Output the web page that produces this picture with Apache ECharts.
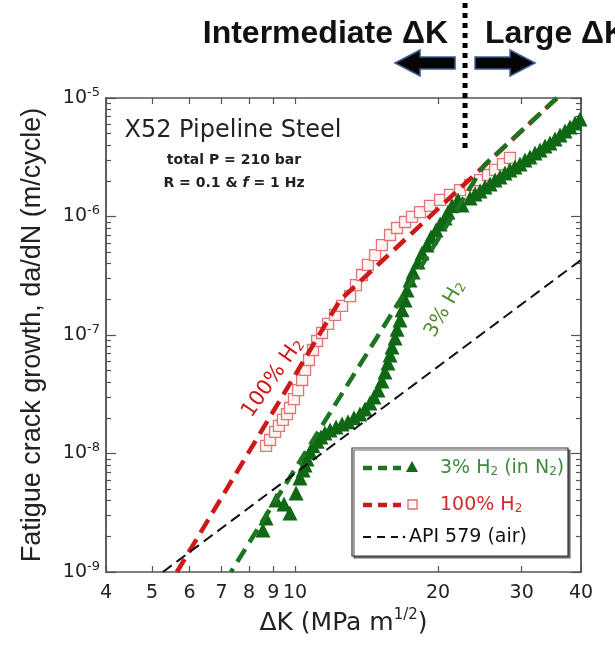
<!DOCTYPE html>
<html>
<head>
<meta charset="utf-8">
<script src="https://cdn.jsdelivr.net/npm/echarts@6/dist/echarts.min.js"></script>
<style>
  html, body { margin: 0; padding: 0; background: #fff; }
  #chart { width: 615px; height: 650px; }
</style>
</head>
<body>
<div id="chart"></div>
<script>
// 3% H2 (in N2) - filled triangles
const k3 = [8.56, 8.69, 9.12, 9.48, 9.76, 10.05, 10.24, 10.40, 10.50, 10.60, 10.76, 10.91, 11.13, 11.34, 11.56,
  11.85, 12.20, 12.56, 12.93, 13.31, 13.70, 14.04, 14.38, 14.66, 14.95, 15.24, 15.47, 15.69, 15.85, 16.00,
  16.24, 16.40, 16.63, 16.80, 17.05, 17.21, 17.46, 17.72, 18.15, 18.51, 18.96, 19.33, 19.81, 20.20, 20.69,
  20.99, 21.40, 22.04, 22.47, 23.36, 23.93, 24.52, 25.12, 25.74, 26.37, 27.01, 27.67, 28.35, 29.05, 29.76,
  30.49, 31.23, 32.01, 32.80, 33.60, 34.42, 35.26, 36.13, 37.02, 37.92, 38.86, 39.81];
const r3 = [2.26e-9, 2.86e-9, 4.05e-9, 3.75e-9, 3.15e-9, 4.64e-9, 6.21e-9, 7.26e-9, 8.00e-9, 9.0e-9, 1.03e-8, 1.16e-8, 1.27e-8, 1.38e-8, 1.49e-8,
  1.58e-8, 1.67e-8, 1.77e-8, 1.85e-8, 2.00e-8, 2.15e-8, 2.38e-8, 2.67e-8, 3.00e-8, 3.43e-8, 4.09e-8, 4.87e-8, 5.81e-8, 6.78e-8, 7.92e-8,
  9.44e-8, 1.12e-7, 1.34e-7, 1.63e-7, 1.97e-7, 2.40e-7, 2.91e-7, 3.40e-7, 4.13e-7, 4.92e-7, 5.74e-7, 6.71e-7, 7.69e-7, 8.65e-7, 9.71e-7,
  1.09e-6, 1.23e-6, 1.38e-6, 1.25e-6, 1.43e-6, 1.55e-6, 1.64e-6, 1.77e-6, 1.88e-6, 2.03e-6, 2.15e-6, 2.33e-6, 2.47e-6, 2.62e-6, 2.77e-6,
  3.00e-6, 3.18e-6, 3.44e-6, 3.64e-6, 3.94e-6, 4.17e-6, 4.51e-6, 4.88e-6, 5.27e-6, 5.69e-6, 6.15e-6, 6.65e-6];

// 100% H2 - open squares
const k100 = [8.69, 8.86, 9.08, 9.25, 9.43, 9.62, 9.76, 9.95, 10.15, 10.35, 10.50, 10.70, 10.91, 11.13,
  11.40, 11.74, 12.14, 12.56, 13.06, 13.44, 13.84, 14.24, 14.74, 15.24, 15.85, 16.40, 17.05, 17.63,
  18.33, 19.24, 20.20, 21.20, 22.26, 23.36, 24.52, 25.49, 26.37, 27.40, 28.35];
const r100 = [1.16e-8, 1.30e-8, 1.52e-8, 1.71e-8, 1.92e-8, 2.15e-8, 2.42e-8, 2.88e-8, 3.43e-8, 4.17e-8, 5.07e-8, 6.15e-8, 7.47e-8, 8.90e-8,
  1.04e-7, 1.24e-7, 1.48e-7, 1.76e-7, 2.13e-7, 2.64e-7, 3.21e-7, 3.90e-7, 4.73e-7, 5.74e-7, 6.98e-7, 8.00e-7, 8.99e-7, 9.91e-7,
  1.09e-6, 1.23e-6, 1.38e-6, 1.52e-6, 1.67e-6, 1.85e-6, 2.03e-6, 2.24e-6, 2.47e-6, 2.77e-6, 3.12e-6];

// dashed fits
const fit3K = [7.33, 25.0, 35.6];
const fit3R = [1e-9, 2.7e-6, 1e-5];
const fit100K = [5.64, 12.44, 35.6];
const fit100R = [1e-9, 1.97e-7, 1e-5];
const apiK = [5.27, 40];
const apiR = [1e-9, 4.3e-7];

// axes
const xTicks = [4, 5, 6, 7, 8, 9, 10, 20, 30, 40];
const yMajorTicks = [1e-9, 1e-8, 1e-7, 1e-6, 1e-5];
const yMinorTicks = [];
for (let e = -9; e < -5; e++) {
  for (let m = 2; m <= 9; m++) yMinorTicks.push(m * Math.pow(10, e));
}
const splitK = 22.8; // intermediate / large dK boundary

const pairs = (xs, ys) => xs.map((x, i) => [x, ys[i]]);

const sans = 'DejaVu Sans';
const axisColor = '#555';
const green = '#0f6814';
const red = '#cc1a1a';

const chart = echarts.init(document.getElementById('chart'));

function xAxisDef(position, withLabels) {
  return {
    type: 'log', logBase: 10, min: 4, max: 40, position: position,
    axisLine: { show: true, lineStyle: { color: axisColor, width: 1.5 } },
    axisTick: { show: true, inside: true, length: 6, customValues: xTicks, lineStyle: { color: axisColor, width: 1.2 } },
    axisLabel: withLabels ? {
      show: true, customValues: xTicks, margin: 12, color: '#222', fontFamily: sans, fontSize: 19
    } : { show: false },
    splitLine: { show: false }, minorTick: { show: false }
  };
}

function yAxisDef(position, ticks, len, withLabels) {
  return {
    type: 'log', logBase: 10, min: 1e-9, max: 1e-5, position: position,
    axisLine: { show: true, lineStyle: { color: axisColor, width: 1.5 } },
    axisTick: { show: true, inside: true, length: len, customValues: ticks, lineStyle: { color: axisColor, width: 1.2 } },
    axisLabel: withLabels ? {
      show: true, customValues: yMajorTicks, margin: 6, color: '#222',
      formatter: v => '{b|10}{s|' + Math.round(Math.log10(v)) + '}',
      rich: {
        b: { fontFamily: sans, fontSize: 19, lineHeight: 24, color: '#222' },
        s: { fontFamily: sans, fontSize: 13, lineHeight: 13, verticalAlign: 'top', color: '#222' }
      }
    } : { show: false },
    splitLine: { show: false }, minorTick: { show: false }
  };
}

const xMain = xAxisDef('bottom', true);
xMain.name = 'ΔK (MPa m{s|1/2})';
xMain.nameLocation = 'middle';
xMain.nameGap = 36;
xMain.nameTextStyle = {
  fontFamily: sans, fontSize: 25, lineHeight: 30, color: '#222', verticalAlign: 'top',
  rich: { s: { fontFamily: sans, fontSize: 15, lineHeight: 15, verticalAlign: 'top', color: '#222' } }
};

const yMain = yAxisDef('left', yMajorTicks, 10, true);
yMain.name = 'Fatigue crack growth, da/dN (m/cycle)';
yMain.nameLocation = 'middle';
yMain.nameGap = 60;
yMain.nameTextStyle = { fontFamily: 'Liberation Sans', fontSize: 27, color: '#222' };

const option = {
  backgroundColor: '#fff',
  animation: false,
  grid: { left: 106, right: 34, top: 98, bottom: 78, outerBoundsMode: 'none' },
  xAxis: [xMain, xAxisDef('top', false)],
  yAxis: [
    yMain,
    yAxisDef('left', yMinorTicks, 5, false),
    yAxisDef('right', yMajorTicks, 10, false),
    yAxisDef('right', yMinorTicks, 5, false)
  ],
  series: [
    {
      name: '100% H2 data', type: 'scatter', data: pairs(k100, r100),
      symbol: 'rect', symbolSize: 11,
      itemStyle: { color: '#fff4f4', borderColor: '#e27474', borderWidth: 1.3, opacity: 1 }
    },
    {
      name: '3% H2 data', type: 'scatter', data: pairs(k3, r3),
      symbol: 'triangle', symbolSize: 15,
      itemStyle: { color: green, opacity: 1 }
    },
    {
      name: '100% H2 fit', type: 'line', data: pairs(fit100K, fit100R), symbol: 'none',
      lineStyle: { color: red, width: 4.5, type: [15, 8] }, z: 4
    },
    {
      name: '3% H2 fit', type: 'line', data: pairs(fit3K, fit3R), symbol: 'none',
      lineStyle: { color: '#1d7421', width: 4.5, type: [15, 8], dashOffset: 11 }, z: 5
    },
    {
      name: 'API 579 (air)', type: 'line', data: pairs(apiK, apiR), symbol: 'none',
      lineStyle: { color: '#111', width: 2, type: [11, 6] }, z: 6
    }
  ]
};

chart.setOption(option);

const sx = chart.convertToPixel({ xAxisIndex: 0 }, splitK);
const subRich = (color, size) => ({
  s: { fontFamily: sans, fontSize: Math.round(size * 0.65), lineHeight: 12, verticalAlign: 'bottom', fill: color }
});

chart.setOption({
  graphic: [
    // headers above the plot
    { type: 'text', x: sx - 17, y: 34, z: 10, style: {
      text: 'Intermediate ΔK', fontFamily: 'Liberation Sans', fontWeight: 'bold', fontSize: 32,
      fill: '#111', align: 'right', verticalAlign: 'middle' } },
    { type: 'text', x: sx + 20, y: 34, z: 10, style: {
      text: 'Large ΔK', fontFamily: 'Liberation Sans', fontWeight: 'bold', fontSize: 32,
      fill: '#111', align: 'left', verticalAlign: 'middle' } },
    { type: 'line', z: 10, shape: { x1: sx, y1: 3, x2: sx, y2: 152 },
      style: { stroke: '#000', lineWidth: 5, lineDash: [5, 5] } },
    { type: 'polygon', z: 10, shape: { points: [[sx - 70, 63], [sx - 45, 50], [sx - 45, 57], [sx - 10, 57], [sx - 10, 69], [sx - 45, 69], [sx - 45, 76]] },
      style: { fill: '#050505', stroke: '#3d5d92', lineWidth: 1.5 } },
    { type: 'polygon', z: 10, shape: { points: [[sx + 70, 63], [sx + 45, 50], [sx + 45, 57], [sx + 10, 57], [sx + 10, 69], [sx + 45, 69], [sx + 45, 76]] },
      style: { fill: '#050505', stroke: '#3d5d92', lineWidth: 1.5 } },

    // material / test condition block
    { type: 'text', x: 233, y: 131, z: 10, style: {
      text: 'X52 Pipeline Steel', fontFamily: sans, fontSize: 24, fill: '#222', align: 'center', verticalAlign: 'middle' } },
    { type: 'text', x: 234, y: 160, z: 10, style: {
      text: 'total P = 210 bar', fontFamily: sans, fontWeight: 'bold', fontSize: 14, fill: '#222', align: 'center', verticalAlign: 'middle' } },
    { type: 'text', x: 234, y: 183, z: 10, style: {
      text: '{b|R = 0.1 & }{i|f}{b| = 1 Hz}', align: 'center', verticalAlign: 'middle',
      rich: {
        b: { fontFamily: sans, fontWeight: 'bold', fontSize: 14, fill: '#222' },
        i: { fontFamily: sans, fontWeight: 'bold', fontStyle: 'italic', fontSize: 14, fill: '#222' }
      } } },

    // curve labels
    { type: 'text', x: 273, y: 378, rotation: 55 * Math.PI / 180, z: 10, style: {
      text: '100% H{s|2}', fontFamily: sans, fontSize: 21, fill: red, align: 'center', verticalAlign: 'middle',
      rich: subRich(red, 21) } },
    { type: 'text', x: 445, y: 309, rotation: 60 * Math.PI / 180, z: 10, style: {
      text: '3% H{s|2}', fontFamily: sans, fontSize: 20, fill: '#4f8a2c', align: 'center', verticalAlign: 'middle',
      rich: subRich('#4f8a2c', 20) } },

    // legend
    { type: 'rect', z: 10, shape: { x: 352, y: 448, width: 216, height: 108 },
      style: { fill: '#fff', stroke: '#333', lineWidth: 1.2, shadowColor: '#666', shadowOffsetX: 2, shadowOffsetY: 2 } },
    { type: 'line', z: 11, shape: { x1: 363, y1: 468, x2: 401, y2: 468 },
      style: { stroke: '#1d7421', lineWidth: 4.5, lineDash: [9, 6] } },
    { type: 'polygon', z: 11, shape: { points: [[412, 461], [418, 472], [406, 472]] }, style: { fill: green } },
    { type: 'text', x: 440, y: 468, z: 11, style: {
      text: '3% H{s|2} (in N{s|2})', fontFamily: sans, fontSize: 19, fill: '#3d8a3d', verticalAlign: 'middle',
      rich: subRich('#3d8a3d', 19) } },
    { type: 'line', z: 11, shape: { x1: 363, y1: 505, x2: 401, y2: 505 },
      style: { stroke: red, lineWidth: 4.5, lineDash: [9, 6] } },
    { type: 'rect', z: 11, shape: { x: 408, y: 500, width: 9, height: 9 },
      style: { fill: '#fff', stroke: '#e06a6a', lineWidth: 1.3 } },
    { type: 'text', x: 440, y: 505, z: 11, style: {
      text: '100% H{s|2}', fontFamily: sans, fontSize: 19, fill: '#d42a2a', verticalAlign: 'middle',
      rich: subRich('#d42a2a', 19) } },
    { type: 'line', z: 11, shape: { x1: 363, y1: 537, x2: 398, y2: 537 },
      style: { stroke: '#111', lineWidth: 2, lineDash: [8, 6] } },
    { type: 'circle', z: 11, shape: { cx: 404, cy: 537, r: 1.3 }, style: { fill: '#111' } },
    { type: 'text', x: 409, y: 537, z: 11, style: {
      text: 'API 579 (air)', fontFamily: sans, fontSize: 19, fill: '#111', verticalAlign: 'middle' } }
  ]
});
</script>
</body>
</html>
